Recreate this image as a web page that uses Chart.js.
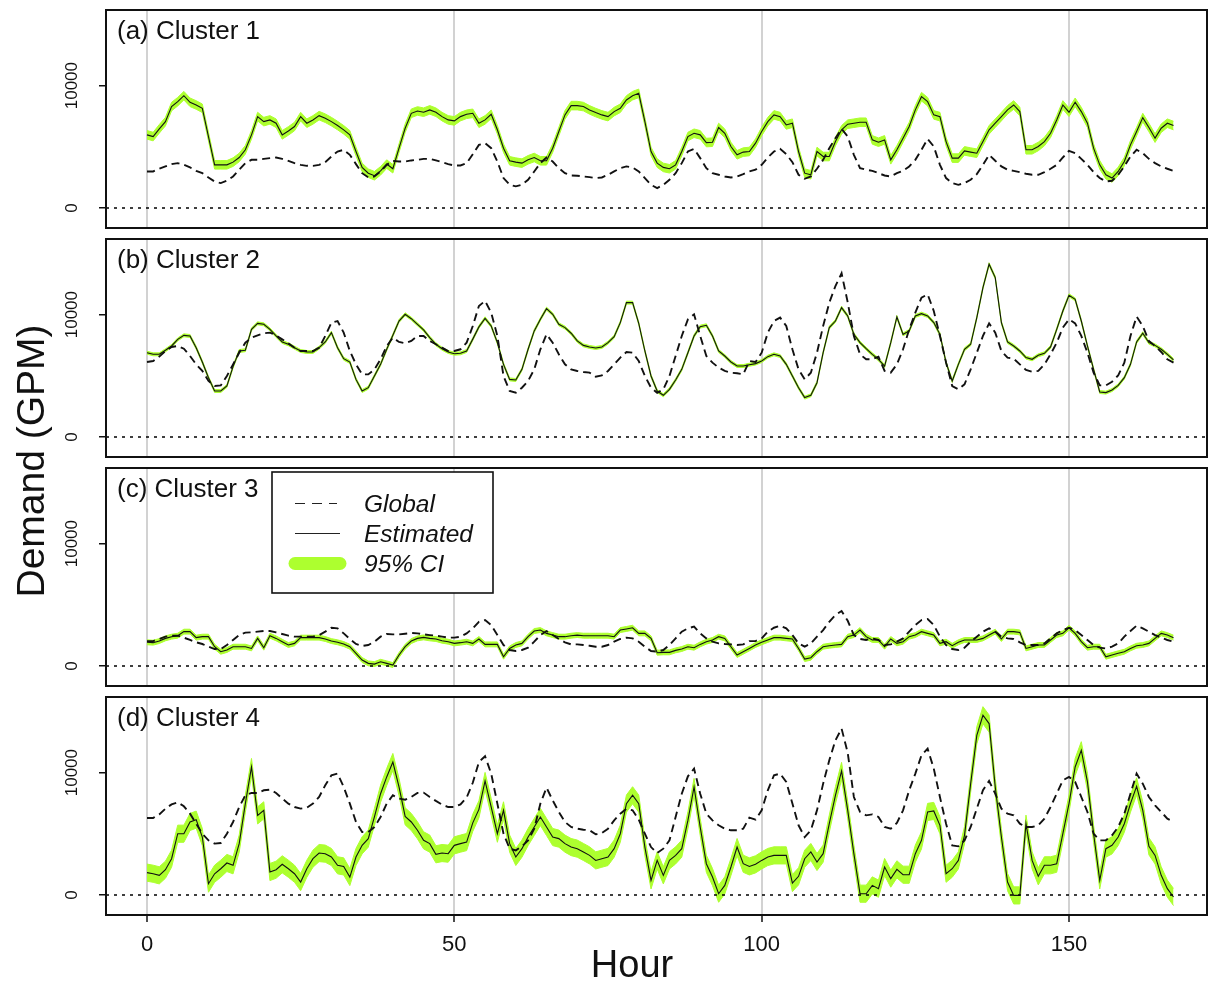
<!DOCTYPE html>
<html><head><meta charset="utf-8">
<script src="https://cdn.jsdelivr.net/npm/chart.js@4.4.1/dist/chart.umd.min.js"></script>
<style>
html,body{margin:0;padding:0;background:#fff;}
#wrap{position:relative;width:1209px;height:982px;overflow:hidden;background:#fff;}
canvas{position:absolute;left:0;top:0;}
</style></head><body><div id="wrap">
<canvas id="c0" width="1209" height="982"></canvas>
<canvas id="c1" width="1209" height="982"></canvas>
<canvas id="c2" width="1209" height="982"></canvas>
<canvas id="c3" width="1209" height="982"></canvas>
</div>
<script>
// ---- data (hourly, hours 0..167) ----
const hours = Array.from({length:168},(_, i)=>i);
const xTicks = [0,50,100,150];
const yTicks = [0,10000];
const yTickLabels = ['0','10000'];
const panelLabels = ['(a) Cluster 1','(b) Cluster 2','(c) Cluster 3','(d) Cluster 4'];
const legendLabels = ['Global','Estimated','95% CI'];
const xTitle = 'Hour';
const yTitle = 'Demand (GPM)';

const estA = [5980,5840,6470,7060,8290,8690,9180,8640,8420,8150,
5840,3530,3530,3530,3750,4130,4760,5980,7470,7060,
7200,6930,5980,6300,6660,7470,6930,7200,7550,7340,
7060,6740,6390,5980,4620,3320,2850,2640,3040,3590,
3210,4890,6520,7740,7930,7830,8020,7830,7470,7200,
7120,7470,7660,7740,6930,7200,7660,6400,4890,3860,
3750,3670,3940,4130,3860,3860,4890,6250,7610,8370,
8370,8290,8020,7800,7610,7470,7880,8150,8830,9180,
9370,7060,4620,3670,3320,3210,3530,4620,5840,6110,
5980,5350,5380,6580,6110,5030,4350,4570,4620,5300,
6250,7060,7610,7470,6790,6930,4620,2850,2720,4620,
4210,4210,5430,6390,6850,6930,7010,7010,5570,5380,
5570,3940,4760,5710,6660,8020,9100,8690,7610,7470,
5430,4080,4080,4670,4570,4480,5430,6390,6930,7470,
8020,8420,7880,4760,4760,5030,5430,6110,7200,8420,
7830,8640,7880,6930,4890,3530,2720,2450,2990,3800,
5160,6250,7390,6580,5710,6520,6930,6740];
const globA = [2990,2990,3210,3400,3590,3670,3530,3320,3040,2850,
2500,2170,2040,2230,2580,3130,3670,3940,3940,4020,
4080,4130,4020,3860,3670,3530,3450,3450,3530,3750,
4210,4620,4760,4350,3590,2850,2500,2580,2990,3530,
3860,3800,3800,3890,3940,4020,4020,3890,3750,3590,
3480,3480,3670,4400,5160,5300,4890,3800,2450,1900,
1770,1900,2310,2990,3670,4130,3800,3260,2850,2660,
2640,2580,2530,2450,2500,2720,2990,3260,3400,3320,
2990,2450,1900,1630,1900,2310,2850,3670,4620,4840,
4080,3260,2850,2720,2580,2500,2580,2770,2990,3130,
3530,4130,4620,4840,4400,3750,2720,2390,2580,3210,
3940,4890,5710,6470,5840,4350,3260,3130,3040,2850,
2660,2580,2850,3040,3400,3940,4760,5650,5030,3530,
2450,2040,1900,2040,2310,2770,3530,4350,3860,3400,
3130,3040,2930,2800,2720,2720,2930,3210,3530,4130,
4670,4480,4020,3530,2930,2450,2170,2230,2720,3400,
4210,4760,4480,4020,3670,3400,3210,3040];

const estB = [6890,6760,6760,7090,7440,7980,8310,8260,7300,6130,
4850,3760,3760,4170,5750,7030,7090,8800,9290,9210,
8800,8260,7770,7580,7300,7030,6950,6950,7300,7770,
8530,7300,6400,6130,4710,3760,4030,4990,5940,7170,
8310,9480,10030,9670,9210,8750,8120,7580,7220,6950,
6810,6840,7030,8000,9000,9700,9070,7710,5940,4710,
4660,5530,7170,8670,9620,10490,10030,9210,8940,8480,
7850,7490,7360,7280,7360,7710,8200,9350,10980,10980,
9290,7030,4990,3760,3410,3900,4660,5530,6890,8260,
9020,9130,8260,7030,6620,6130,5800,5800,5910,6000,
6210,6570,6760,6620,5940,4990,4030,3220,3410,4440,
6890,8940,9480,10570,9890,8390,7710,7220,6760,6350,
5800,7710,9810,8390,8670,9890,10080,9890,9350,8390,
6080,4580,5940,7170,7580,9760,12210,14120,13030,9350,
7770,7440,7030,6490,6350,6680,6840,7360,8800,10300,
11580,11250,9480,7440,5530,3680,3630,3840,4220,4850,
5940,7770,8480,7710,7490,7170,6760,6300];
const globB = [6130,6210,6570,7030,7360,7440,7220,6620,5940,5400,
4580,4170,4220,4990,5940,6890,7710,8120,8310,8480,
8530,8310,7980,7660,7300,7030,7030,7030,7300,8260,
9350,9480,8530,7030,5940,5120,5120,5530,6350,7440,
8120,7770,7660,7850,8260,8260,7850,7580,7300,7030,
7030,7170,7710,9070,10710,11120,10160,8260,4990,3760,
3620,4030,4580,5530,7170,8390,7710,6760,5940,5530,
5400,5310,5260,4930,5040,5400,5940,6490,6950,6890,
6210,4990,4030,3620,3900,4990,6620,8260,9620,10030,
8260,6620,6080,5670,5400,5260,5210,5120,6210,6130,
6890,8530,9480,9760,9070,7170,5530,4710,5260,6890,
9070,10980,12340,13380,11000,8260,6760,6350,6350,6570,
5400,5260,5940,7170,8800,10160,11390,11660,10300,8260,
6080,4170,3900,4310,5530,6890,8260,9290,8530,7030,
6490,6400,5940,5480,5340,5400,5940,6760,7710,8940,
9620,9290,8260,6890,5260,4220,4220,4520,5040,6080,
8260,9840,9070,7850,7440,6950,6350,6080];

const estC = [1940,1910,2040,2260,2400,2480,2810,2810,2320,2400,
2400,1580,1170,1310,1580,1580,1580,1440,2260,1500,
2480,2260,1990,1720,1850,2320,2320,2320,2320,2210,
2040,1940,1800,1580,1040,490,220,160,350,220,
80,900,1580,2040,2260,2340,2260,2210,2070,1990,
1850,1910,1990,1850,2210,1770,1770,1770,760,1440,
1720,1850,2400,2860,2940,2670,2530,2400,2400,2480,
2530,2480,2480,2480,2480,2480,2400,2940,3030,3130,
2670,2670,2260,1090,1120,1120,1280,1390,1580,1500,
1770,1990,2130,2400,2260,1580,900,1170,1440,1720,
1940,2130,2320,2320,2260,2210,1440,570,680,1170,
1580,1660,1720,1770,2400,2530,2940,2400,2130,2130,
1580,2210,1850,1990,2400,2530,2810,2670,2530,1850,
1990,1660,1940,2130,2130,2130,2260,2530,2810,2210,
2810,2810,2750,1440,1580,1720,1720,2130,2530,2670,
3130,2670,1990,1500,1580,1580,760,900,1040,1170,
1440,1660,1720,1850,2260,2670,2530,2320];
const globC = [2040,2040,2210,2400,2480,2480,2320,2130,1940,1800,
1580,1390,1390,1720,2130,2530,2730,2750,2810,2860,
2860,2750,2620,2480,2400,2400,2400,2400,2530,2810,
3130,3080,2670,2210,1800,1640,1720,1990,2400,2620,
2590,2590,2640,2700,2670,2590,2530,2480,2400,2320,
2320,2400,2670,3080,3620,3760,3350,2530,1720,1310,
1230,1310,1500,1990,2530,2860,2530,2210,1940,1770,
1770,1720,1660,1580,1580,1720,1990,2210,2320,2260,
1990,1580,1230,1170,1310,1720,2260,2810,3080,3220,
2670,2260,1990,1850,1800,1770,1720,1770,2040,2040,
2260,2810,3130,3300,3080,2530,1850,1580,1850,2400,
2940,3620,4170,4500,3700,2530,2210,2130,2260,2130,
1720,1770,1990,2260,2810,3350,3760,3840,3350,2400,
1720,1390,1310,1500,1990,2400,2810,3080,2810,2400,
2260,2210,1940,1720,1720,1720,1850,2260,2670,2940,
3130,2940,2530,2130,1720,1500,1440,1580,1850,2400,
2860,3300,3080,2810,2530,2320,2130,1990];

const estD = [1830,1740,1610,2070,2970,5010,5010,5970,6160,4740,
930,1740,2150,2620,2430,4200,7470,10460,6510,6920,
1880,2070,2510,2150,1740,1060,2150,2970,3430,3380,
3110,2430,2340,1470,3110,4060,4610,6380,8280,9650,
10870,8830,6430,5970,5290,4470,4200,3330,3430,3380,
4060,4200,4330,5900,7000,9320,7190,5010,6920,4200,
3110,3790,4740,5560,6380,5560,4740,4610,4200,3920,
3790,3520,3240,2830,2970,3110,3790,5010,7470,8150,
7470,3920,1200,2830,1610,2830,3240,3790,6100,8830,
5560,2560,1470,110,790,2290,3920,2560,2340,2510,
2830,3110,3240,3240,3240,980,1530,2970,3520,2700,
3380,5830,8150,10140,6920,3380,110,110,790,520,
2290,1340,2100,1660,1660,3380,4470,6790,6870,5700,
1740,2150,2830,4880,9100,13050,14690,14010,8830,4740,
1060,-30,-30,5830,2830,1530,2430,2430,2560,5010,
7470,10460,11830,9240,5010,1200,3790,4060,4740,5830,
7470,8880,6920,3980,3240,1610,520,-160];
const globD = [6300,6300,6590,7060,7410,7580,7250,6650,5830,5010,
4470,4200,4250,5010,5970,7190,8150,8340,8340,8560,
8610,8340,7880,7470,7190,7060,7140,7470,8010,8970,
9780,9920,8830,7470,5970,5150,5150,5560,6380,7470,
8150,7880,7790,8010,8340,8370,8010,7690,7390,7190,
7190,7410,7960,9170,10870,11340,9920,7470,5010,3790,
3650,3980,4470,5420,7470,8770,7740,6790,5970,5560,
5420,5340,5290,4960,5070,5420,6100,6650,7060,6920,
6160,5010,3920,3430,3790,4470,6380,8280,9700,10330,
8280,6650,6100,5700,5420,5290,5290,5420,6320,6160,
6920,8560,9780,9920,9240,7470,5700,4740,5290,6920,
9100,11010,12640,13600,11620,8010,6790,6510,6590,6380,
5560,5420,5890,6920,8560,9920,11420,11960,10330,8010,
5830,4060,3980,4470,5560,7060,8560,9320,8280,7060,
6650,6510,5830,5560,5560,5700,6240,7190,8280,9370,
9650,9240,8010,6790,5010,4470,4470,4880,5560,6650,
8280,9920,9100,8010,7330,6790,6240,5970];

// 95% CI half-width per cluster
const ciHalfWidth = [350,120,200,700];

const estimated = [estA,estB,estC,estD];
const globalDemand = [globA,globB,globC,globD];

// ---- layout / style ----
const W=1209, H=982, PL=106, PR=1207;
const panels=[{top:10,bottom:228},{top:239,bottom:457},{top:468,bottom:686},{top:697,bottom:915}];
const XMIN=-6.67, XMAX=172.45, YMIN=-1630, YMAX=16180;
const FONT='"Liberation Sans", Arial, Helvetica, sans-serif';
const GREEN='#ADFF2F';

function pts(arr){ return hours.map((h,i)=>({x:h,y:arr[i]})); }

const decor = {
  id:'decor',
  afterDatasetsDraw(chart, args, opts){
    const ctx=chart.ctx, a=chart.chartArea, ys=chart.scales.y;
    ctx.save();
    ctx.beginPath(); ctx.rect(a.left,a.top,a.right-a.left,a.bottom-a.top); ctx.clip();
    const y0=ys.getPixelForValue(0);
    ctx.strokeStyle='#000'; ctx.lineWidth=1.6; ctx.setLineDash([3,5]);
    ctx.beginPath(); ctx.moveTo(a.left,y0); ctx.lineTo(a.right,y0); ctx.stroke();
    ctx.restore();
  },
  afterDraw(chart, args, opts){
    const ctx=chart.ctx, a=chart.chartArea, ys=chart.scales.y;
    const i=opts.index;
    ctx.save();
    ctx.strokeStyle='#111'; ctx.lineWidth=2; ctx.setLineDash([]);
    ctx.strokeRect(a.left,a.top,a.right-a.left,a.bottom-a.top);
    ctx.fillStyle='#111'; ctx.font='17px '+FONT; ctx.textAlign='center'; ctx.textBaseline='alphabetic';
    yTicks.forEach((v,k)=>{
      const y=ys.getPixelForValue(v);
      ctx.save(); ctx.translate(77,y); ctx.rotate(-Math.PI/2); ctx.fillText(yTickLabels[k],0,0); ctx.restore();
    });
    ctx.font='26px '+FONT; ctx.textAlign='left'; ctx.fillStyle='#111';
    ctx.fillText(panelLabels[i], 117, a.top+29);
    if(i===2){
      const lx=272, ly=472, lw=221, lh=121;
      ctx.fillStyle='#fff'; ctx.fillRect(lx,ly,lw,lh);
      ctx.strokeStyle='#111'; ctx.lineWidth=1.6; ctx.strokeRect(lx,ly,lw,lh);
      ctx.strokeStyle='#222'; ctx.lineWidth=1.2; ctx.setLineDash([10,7]);
      ctx.beginPath(); ctx.moveTo(295,503.5); ctx.lineTo(337,503.5); ctx.stroke();
      ctx.setLineDash([]);
      ctx.beginPath(); ctx.moveTo(295,533.5); ctx.lineTo(340,533.5); ctx.stroke();
      ctx.strokeStyle=GREEN; ctx.lineWidth=13; ctx.lineCap='round';
      ctx.beginPath(); ctx.moveTo(295,563.5); ctx.lineTo(340,563.5); ctx.stroke();
      ctx.fillStyle='#111'; ctx.font='italic 24.5px '+FONT; ctx.textAlign='left';
      ctx.fillText(legendLabels[0],364,512);
      ctx.fillText(legendLabels[1],364,542);
      ctx.fillText(legendLabels[2],364,572);
      ctx.save(); ctx.font='39px '+FONT; ctx.textAlign='center'; ctx.textBaseline='middle';
      ctx.translate(33,461); ctx.rotate(-Math.PI/2); ctx.fillText(yTitle,0,0); ctx.restore();
    }
    if(i===3){
      ctx.font='38px '+FONT; ctx.textAlign='center'; ctx.textBaseline='alphabetic'; ctx.fillStyle='#111';
      ctx.fillText(xTitle, 632, 977);
    }
    ctx.restore();
  }
};

panels.forEach((p,i)=>{
  const est=estimated[i], glob=globalDemand[i], hw=ciHalfWidth[i];
  const upper=est.map(v=>v+hw), lower=est.map(v=>v-hw);
  const isLast = i===3;
  new Chart(document.getElementById('c'+i),{
    type:'line',
    data:{datasets:[
      {label:'CI upper',data:pts(upper),borderColor:GREEN,borderWidth:1,pointRadius:0,fill:false,order:3,tension:0},
      {label:'CI lower',data:pts(lower),borderColor:GREEN,borderWidth:1,pointRadius:0,backgroundColor:GREEN,fill:'-1',order:3,tension:0},
      {label:'Global',data:pts(glob),borderColor:'#111',borderWidth:1.9,borderDash:[8,5],pointRadius:0,fill:false,order:2,tension:0},
      {label:'Estimated',data:pts(est),borderColor:'#111',borderWidth:1.1,pointRadius:0,fill:false,order:1,tension:0}
    ]},
    options:{
      responsive:false, animation:false, events:[],
      layout:{padding:{left:0,right:W-PR,top:p.top,bottom:isLast?0:H-p.bottom}},
      plugins:{legend:{display:false},tooltip:{enabled:false},decor:{index:i}},
      scales:{
        x:{type:'linear',min:XMIN,max:XMAX,
          afterFit:s=>{s.height=isLast?(H-p.bottom):0;},
          afterBuildTicks:s=>{s.ticks=xTicks.map(v=>({value:v}));},
          grid:{color:'#d2d2d2',lineWidth:2,drawTicks:isLast,tickLength:7,tickColor:'#111',tickWidth:1.5},
          border:{display:false},
          ticks:{display:isLast,color:'#111',font:{family:FONT,size:22},padding:10,maxRotation:0,autoSkip:false}
        },
        y:{min:YMIN,max:YMAX,
          afterFit:s=>{s.width=PL;},
          afterBuildTicks:s=>{s.ticks=yTicks.map(v=>({value:v}));},
          grid:{drawOnChartArea:false,drawTicks:true,tickLength:7,color:'#111',lineWidth:1.5},
          border:{display:false},
          ticks:{display:false}
        }
      }
    },
    plugins:[decor]
  });
});
</script></body></html>
